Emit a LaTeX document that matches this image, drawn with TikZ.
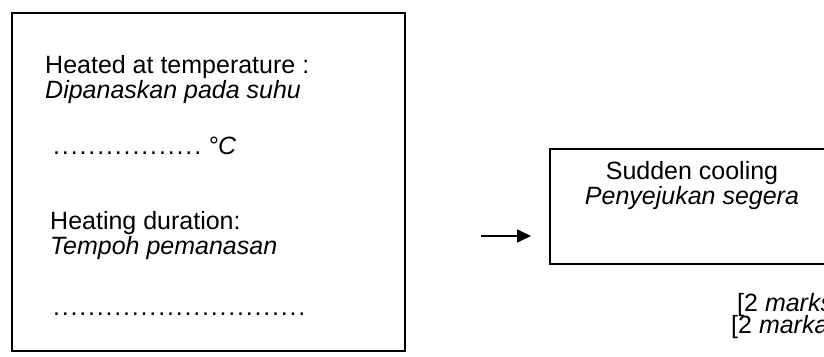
\documentclass[tikz,border=0pt]{standalone}
\usepackage{fontspec}
\setmainfont{Liberation Sans}
\usetikzlibrary{arrows.meta}
\newcommand{\dotrow}[2]{\hbox to #1{\xleaders\hbox to #2{\hss.\hss}\hfill}}
\begin{document}
\begin{tikzpicture}[x=1pt,y=1pt,
  txt/.style={anchor=base west,inner sep=0pt,font=\fontsize{25}{28}\selectfont},
  frame/.style={draw=black,line width=1.6pt},
  conn/.style={line width=1.6pt,-{Triangle[length=14pt,width=13pt]}}]
\clip (0,0) rectangle (824,356);
\fill[white] (0,0) rectangle (824,356);
% left box
\node[frame,minimum width=393pt,minimum height=338pt,anchor=north west,inner sep=0pt] (left) at (11,344) {};
\node[txt] (t1) at (45,282) {Heated at temperature :};
\node[txt] (t2) at (45,257) {\itshape Dipanaskan pada suhu};
\node[txt] (t3) at (52,201) {\dotrow{150pt}{8.7pt}\hspace{6pt}\itshape\textdegree C};
\node[txt] (t4) at (50,126) {Heating duration:};
\node[txt] (t5) at (50,101) {\itshape Tempoh pemanasan};
\node[txt] (t6) at (52,41) {\dotrow{254pt}{8.7pt}};
% right box
\node[frame,minimum width=300pt,minimum height=115pt,anchor=north west,inner sep=0pt] (right) at (549,208) {};
\node[txt,anchor=base] (r1) at (692,176) {Sudden cooling};
\node[txt,anchor=base] (r2) at (692,151) {\itshape Penyejukan segera};
% arrow
\coordinate (a1) at (481,120);
\coordinate (a2) at (531,120);
\draw[conn] (a1) -- (a2);
% marks
\node[txt] (m1) at (737,45) {[2 \itshape marks\upshape]};
\node[txt] (m2) at (731,23) {[2 \itshape markah\upshape]};
\end{tikzpicture}
\end{document}
